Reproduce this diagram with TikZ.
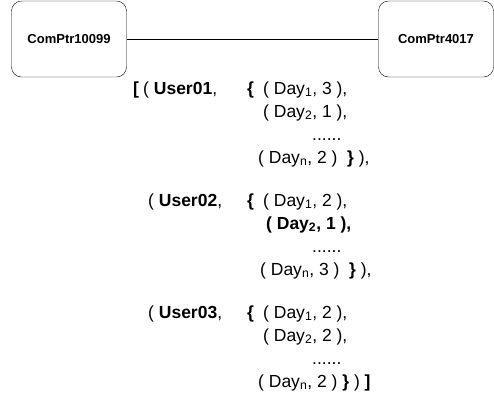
\documentclass[tikz,border=0pt]{standalone}
\usepackage{fontspec}
\setmainfont{Liberation Sans}
\usepackage{tikz}

\begin{document}
\begin{tikzpicture}[x=1pt,y=-1pt,
        comp/.style={draw, rounded corners=10pt, minimum width=115pt, minimum height=76pt,
            font=\fontsize{13}{15}\selectfont\bfseries},
        txt/.style={anchor=base west, inner sep=0pt, font=\fontsize{17.5}{20}\selectfont}]
        \useasboundingbox (0,0) rectangle (494,405);

        \node[comp] (cp1) at (69,39) {ComPtr10099};
        \node[comp] (cp2) at (436,39) {ComPtr4017};
        \draw (cp1) -- (cp2);

        % first user
        \node[txt] (open) at (133,94) {\textbf{[}};
        \node[txt] (user1) at (143,94) {( \textbf{User01},};
        \node[txt] (set1) at (247,94) {\textbf{\{}};
        \node[txt] (d11) at (263,94) {( Day\textsubscript{1}, 3 ),};
        \node[txt] (d12) at (263,117) {( Day\textsubscript{2}, 1 ),};
        \node[txt] (dots1) at (312,140) {......};
        \node[txt] (d1n) at (258,163) {( Day\textsubscript{n}, 2 )\ \ \textbf{\}} ),};

        % second user
        \node[txt] (user2) at (148,206) {( \textbf{User02},};
        \node[txt] (set2) at (247,206) {\textbf{\{}};
        \node[txt] (d21) at (263,206) {( Day\textsubscript{1}, 2 ),};
        \node[txt] (d22) at (266,229) {\textbf{( Day\textsubscript{2}, 1 ),}};
        \node[txt] (dots2) at (312,252) {......};
        \node[txt] (d2n) at (260,275) {( Day\textsubscript{n}, 3 )\ \ \textbf{\}} ),};

        % third user
        \node[txt] (user3) at (148,318) {( \textbf{User03},};
        \node[txt] (set3) at (247,318) {\textbf{\{}};
        \node[txt] (d31) at (263,318) {( Day\textsubscript{1}, 2 ),};
        \node[txt] (d32) at (263,341) {( Day\textsubscript{2}, 2 ),};
        \node[txt] (dots3) at (312,364) {......};
        \node[txt] (d3n) at (258,387) {( Day\textsubscript{n}, 2 ) \textbf{\}} ) \textbf{]}};
    \end{tikzpicture}
\end{document}
